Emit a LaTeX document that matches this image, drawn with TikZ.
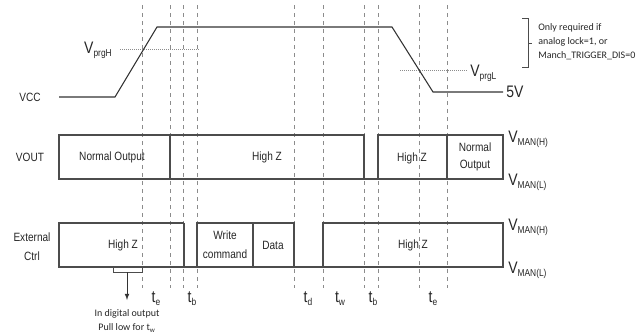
\documentclass[tikz,border=0pt]{standalone}
\usepackage{fontspec}
\setmainfont{Liberation Sans}[FakeStretch=0.84]
\newfontfamily\notefont{Carlito}
\newcommand{\lsub}[1]{\raisebox{-0.5ex}{\fontsize{7.5}{8}\selectfont #1}}
\newcommand{\tlab}[1]{{\fontsize{12.5}{12}\selectfont t}\lsub{#1}}
\newcommand{\vlab}[1]{{\fontsize{12.5}{12}\selectfont V}\lsub{#1}}

\begin{document}
\begin{tikzpicture}[x=0.75pt, y=-0.75pt,
    wave/.style={draw=black!80, line width=0.8pt},
    box/.style={draw=black!70, line width=0.8pt},
    marker/.style={draw=black!45, dashed, line width=0.5pt},
    level/.style={draw=black!45, densely dotted, line width=0.5pt},
    lbl/.style={font=\fontsize{9}{11}\selectfont, text=black!85, align=center, inner sep=0pt},
    note/.style={font=\notefont\fontsize{7.5}{10.5}\selectfont, text=black!85, inner sep=0pt}
    ]
    \useasboundingbox (0,0) rectangle (639,332);
    % time markers
    \foreach \x [count=\i] in {142,170,183,197,294,323,364,378,419,447}
      \draw[marker] (\x,5) -- (\x,288);

    % VCC
    \coordinate (v0) at (59,97);
    \coordinate (v1) at (115,97);
    \coordinate (v2) at (157,27);
    \coordinate (v3) at (392,27);
    \coordinate (v4) at (433,92);
    \coordinate (v5) at (503,92);
    \draw[wave] (v0) -- (v1) -- (v2) -- (v3) -- (v4) -- (v5);
    \node[lbl] (vcc) at (30,97) {VCC};
    \node[lbl] (prgH) at (98,50) {\vlab{prgH}};
    \draw[level] (120,49) -- (199,49);
    \draw[level] (400,70) -- (467,70);
    \node[lbl, anchor=west] (prgL) at (470,73) {\vlab{prgL}};
    \node[lbl, anchor=west, font=\fontsize{12.5}{12}\selectfont] (five) at (506,92) {5V};

    % note
    \draw[black!70, line width=0.6pt] (522,18) -- (528,18) -- (528,67) -- (522,67)
      (528,43) -- (532,43);
    \node[note, anchor=west] (n1) at (538,28) {Only required if};
    \node[note, anchor=west] (n2) at (538,42) {analog lock=1, or};
    \node[note, anchor=west] (n3) at (538,56) {Manch\_TRIGGER\_DIS=0};

    % VOUT
    \draw[box] (364,179) -- (364,135) -- (59,135) -- (59,179) -- (503,179) -- (503,135) -- (378,135) -- (378,179);
    \draw[box] (170,135) -- (170,179);
    \draw[box] (447,135) -- (447,179);
    \node[lbl] (vout) at (30,157) {VOUT};
    \node[lbl] (o1) at (112,157) {Normal Output};
    \node[lbl] (o2) at (267,157) {High Z};
    \node[lbl] (o3) at (412,158) {High Z};
    \node[lbl] (o4) at (475,157) {Normal\\[2pt]Output};
    \node[lbl, anchor=west] (vh1) at (508,139) {\vlab{MAN(H)}};
    \node[lbl, anchor=west] (vl1) at (508,182) {\vlab{MAN(L)}};

    % External Ctrl
    \draw[box] (184,223) -- (59,223) -- (59,267) -- (503,267) -- (503,223) -- (323,223) -- (323,267);
    \draw[box] (184,223) -- (184,267);
    \draw[box] (197,267) -- (197,223) -- (294,223) -- (294,267);
    \draw[box] (253,223) -- (253,267);
    \node[lbl] (ext) at (32,247) {External\\[3pt]Ctrl};
    \node[lbl] (c1) at (123,245) {High Z};
    \node[lbl] (c2) at (225,245) {Write\\[3pt]command};
    \node[lbl] (c3) at (273,245) {Data};
    \node[lbl] (c4) at (413,245) {High Z};
    \node[lbl, anchor=west] (vh2) at (508,227) {\vlab{MAN(H)}};
    \node[lbl, anchor=west] (vl2) at (508,270) {\vlab{MAN(L)}};

    % pull low
    \draw[black!70, line width=0.6pt] (113,267) -- (113,272) -- (142,272) -- (142,267);
    \coordinate (pl) at (127,272);
    \node[note, align=center] (pull) at (127,321) {In digital output\\Pull low for t\textsubscript{w}};
    \draw[black!80, line width=0.6pt, -latex] (pl) -- (127,300);

    % time labels
    \node[lbl] (te1) at (156,299) {\tlab{e}};
    \node[lbl] (tb1) at (192,299) {\tlab{b}};
    \node[lbl] (td) at (308,299) {\tlab{d}};
    \node[lbl] (tw) at (340,299) {\tlab{w}};
    \node[lbl] (tb2) at (373,299) {\tlab{b}};
    \node[lbl] (te2) at (433,299) {\tlab{e}};
  \end{tikzpicture}
\end{document}
